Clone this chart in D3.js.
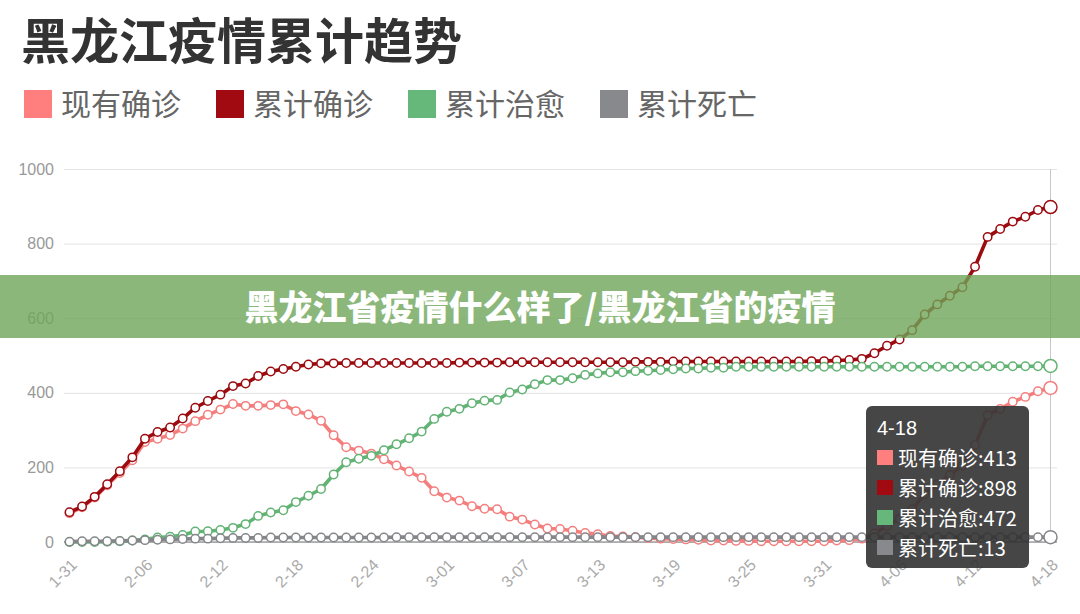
<html>
<head>
    <meta charset="utf-8">
    <script src="https://d3js.org/d3.v7.min.js"></script>
</head>
<style>
    body { margin: 0; background: #fff; }
    text { font-family: "Liberation Sans", Arial, "Noto Sans CJK SC", sans-serif; }
    .cjk { font-family: "Noto Sans CJK SC", sans-serif; }
    .gridlines line { stroke: #e3e3e3; }
    .gridlines .domain { stroke: none; }
    .gridlines text { fill: #999; font-size: 16px; }
    .x-axis .domain { stroke: none; }
    .x-axis text { fill: #aaa; font-size: 16px; }
</style>
<body>
    <svg height="614" width="1080" id="trend"></svg>
</body>
<script>

    // dates on the x axis
    const dates = ['1-31',
        '2-01','2-02','2-03','2-04','2-05','2-06','2-07','2-08','2-09','2-10',
        '2-11','2-12','2-13','2-14','2-15','2-16','2-17','2-18','2-19','2-20',
        '2-21','2-22','2-23','2-24','2-25','2-26','2-27','2-28','2-29',
        '3-01','3-02','3-03','3-04','3-05','3-06','3-07','3-08','3-09','3-10',
        '3-11','3-12','3-13','3-14','3-15','3-16','3-17','3-18','3-19','3-20',
        '3-21','3-22','3-23','3-24','3-25','3-26','3-27','3-28','3-29','3-30','3-31',
        '4-01','4-02','4-03','4-04','4-05','4-06','4-07','4-08','4-09','4-10',
        '4-11','4-12','4-13','4-14','4-15','4-16','4-17','4-18'];

    const xTickLabels = ['1-31','2-06','2-12','2-18','2-24','3-01','3-07','3-13','3-19','3-25','3-31','4-06','4-12','4-18'];
    const yTicks = [0, 200, 400, 600, 800, 1000];

    // 现有确诊
    const xianyou = [77, 93, 119, 152, 185, 219, 268, 277, 287, 304,
        324, 341, 355, 370, 365, 365, 367, 369, 351, 342,
        325, 286, 254, 245, 237, 222, 205, 189, 172, 136,
        119, 111, 96, 89, 88, 68, 60, 47, 36, 35,
        30, 24, 21, 16, 15, 13, 11, 9, 8, 7,
        6, 4, 4, 3, 3, 2, 2, 2, 2, 2,
        2, 4, 5, 9, 23, 43, 62, 88, 128, 155,
        180, 205, 260, 340, 357, 376, 389, 404, 413];

    // 累计确诊
    const leiji = [80, 95, 121, 155, 190, 227, 277, 295, 307, 331,
        360, 378, 395, 418, 425, 445, 457, 464, 470, 476,
        479, 479, 480, 480, 480, 480, 480, 480, 480, 480,
        480, 481, 481, 481, 481, 482, 482, 482, 482, 482,
        482, 482, 482, 482, 482, 483, 483, 483, 484, 484,
        484, 484, 484, 484, 484, 484, 484, 484, 484, 485,
        485, 487, 488, 491, 506, 526, 543, 568, 610, 637,
        660, 683, 738, 818, 839, 859, 872, 890, 898];

    // 累计治愈
    const zhiyu = [0, 0, 0, 1, 2, 4, 7, 12, 14, 19,
        28, 29, 32, 38, 48, 70, 79, 85, 107, 124,
        142, 181, 214, 223, 231, 246, 262, 278, 296, 330,
        349, 357, 372, 379, 381, 401, 409, 423, 434, 434,
        439, 448, 452, 455, 455, 458, 459, 461, 463, 465,
        465, 467, 467, 470, 470, 470, 470, 470, 470, 470,
        470, 470, 470, 470, 470, 470, 470, 470, 470, 470,
        470, 470, 471, 471, 471, 471, 471, 471, 472];

    // 累计死亡
    const siwang = [1, 2, 2, 2, 3, 4, 5, 6, 7, 8,
        9, 9, 10, 11, 11, 11, 12, 12, 12, 12,
        12, 12, 12, 12, 12, 12, 13, 13, 13, 13,
        13, 13, 13, 13, 13, 13, 13, 13, 13, 13,
        13, 13, 13, 13, 13, 13, 13, 13, 13, 13,
        13, 13, 13, 13, 13, 13, 13, 13, 13, 13,
        13, 13, 13, 13, 13, 13, 13, 13, 13, 13,
        13, 13, 13, 13, 13, 13, 13, 13, 13];

    const seriesNames = ['现有确诊', '累计确诊', '累计治愈', '累计死亡'];
    const seriesColors = ['#f47e7e', '#9b0b10', '#62b374', '#85868a'];
    const legendColors = ['#ff7f7f', '#a00a10', '#66b87a', '#88898d'];

    let plt = d3.select('svg#trend');

    let grid = { left: 64, right: 1057, top: 169, bottom: 542 };

    let x_scale = d3.scalePoint()
                    .domain(dates)
                    .range([69.5, 1050.5]);

    let y_scale = d3.scaleLinear()
                    .domain([0, 1000])
                    .range([grid.bottom, grid.top]);

    // title
    plt.append('text')
        .attr('class', 'cjk')
        .attr('x', 21)
        .attr('y', 59)
        .attr('font-size', 49)
        .attr('font-weight', 'bold')
        .attr('fill', '#333')
        .text('黑龙江疫情累计趋势');

    // legend
    let legend = plt.selectAll('g.legend')
                    .data(seriesNames)
                    .join('g')
                    .attr('class', 'legend')
                    .attr('transform', (d, i) => `translate(${24 + i * 192},90)`);

    legend.append('rect')
        .attr('width', 28)
        .attr('height', 28)
        .attr('fill', (d, i) => legendColors[i]);

    legend.append('text')
        .attr('class', 'cjk')
        .attr('x', 37)
        .attr('y', 25)
        .attr('font-size', 30)
        .attr('fill', '#666')
        .text(d => d);

    // y gridlines and labels
    let yAxis = d3.axisLeft(y_scale)
                  .tickValues(yTicks)
                  .tickFormat(d3.format('d'))
                  .tickSize(-(grid.right - grid.left))
                  .tickPadding(10);

    plt.append('g')
        .attr('class', 'gridlines')
        .attr('transform', `translate(${grid.left},0)`)
        .call(yAxis);

    // x axis line
    plt.append('line')
        .attr('x1', grid.left)
        .attr('x2', grid.right)
        .attr('y1', grid.bottom)
        .attr('y2', grid.bottom)
        .attr('stroke', '#777')
        .attr('stroke-width', 1);

    let xAxis = d3.axisBottom(x_scale)
                  .tickValues(xTickLabels)
                  .tickSize(0)
                  .tickPadding(0);

    plt.append('g')
        .attr('class', 'x-axis')
        .attr('transform', `translate(0,${grid.bottom})`)
        .call(xAxis)
        .selectAll('text')
        .attr('y', 0)
        .attr('dy', '0.35em')
        .attr('transform', 'translate(4,20) rotate(-45)')
        .style('text-anchor', 'end');

    // pointer line at the hovered date
    let lastDate = dates[dates.length - 1];
    plt.append('line')
        .attr('x1', x_scale(lastDate))
        .attr('x2', x_scale(lastDate))
        .attr('y1', grid.top)
        .attr('y2', grid.bottom)
        .attr('stroke', '#c8c8c8')
        .attr('stroke-width', 1);

    // series
    let allSeries = [xianyou, leiji, zhiyu, siwang];

    let line = d3.line()
                 .x((d, i) => x_scale(dates[i]))
                 .y(d => y_scale(d));

    allSeries.forEach((values, k) => {
        let g = plt.append('g').attr('class', 'series');

        g.append('path')
            .datum(values)
            .attr('d', line)
            .attr('fill', 'none')
            .attr('stroke', seriesColors[k])
            .attr('stroke-width', 3.6)
            .attr('stroke-linejoin', 'round');

        g.selectAll('circle')
            .data(values)
            .join('circle')
            .attr('cx', (d, i) => x_scale(dates[i]))
            .attr('cy', d => y_scale(d))
            .attr('r', (d, i) => i == values.length - 1 ? 6.5 : 4.2)
            .attr('fill', '#fff')
            .attr('stroke', seriesColors[k])
            .attr('stroke-width', 1.5);
    });

    // banner across the chart
    plt.append('rect')
        .attr('x', 0)
        .attr('y', 275)
        .attr('width', 1080)
        .attr('height', 63)
        .attr('fill', 'rgb(110,166,89)')
        .attr('opacity', 0.8);

    plt.append('text')
        .attr('class', 'cjk')
        .attr('x', 540)
        .attr('y', 320)
        .attr('text-anchor', 'middle')
        .attr('font-size', 34)
        .attr('font-weight', 900)
        .attr('fill', '#fff')
        .text('黑龙江省疫情什么样了/黑龙江省的疫情');

    // tooltip for the last date
    let tip = plt.append('g')
                 .attr('class', 'tooltip')
                 .attr('transform', 'translate(866,406)');

    tip.append('rect')
        .attr('width', 163)
        .attr('height', 162)
        .attr('rx', 6)
        .attr('fill', 'rgb(50,50,50)')
        .attr('opacity', 0.9);

    tip.append('text')
        .attr('x', 11)
        .attr('y', 29)
        .attr('font-size', 20)
        .attr('fill', '#fff')
        .text(lastDate);

    let last = allSeries.map(v => v[v.length - 1]);

    let rows = tip.selectAll('g.row')
                  .data(seriesNames)
                  .join('g')
                  .attr('class', 'row')
                  .attr('transform', (d, i) => `translate(11,${44 + i * 30})`);

    rows.append('rect')
        .attr('width', 16)
        .attr('height', 15)
        .attr('fill', (d, i) => legendColors[i]);

    rows.append('text')
        .attr('class', 'cjk')
        .attr('x', 21)
        .attr('y', 15.5)
        .attr('font-size', 20)
        .attr('fill', '#fff')
        .text((d, i) => d + ':' + last[i]);

</script>
</html>
